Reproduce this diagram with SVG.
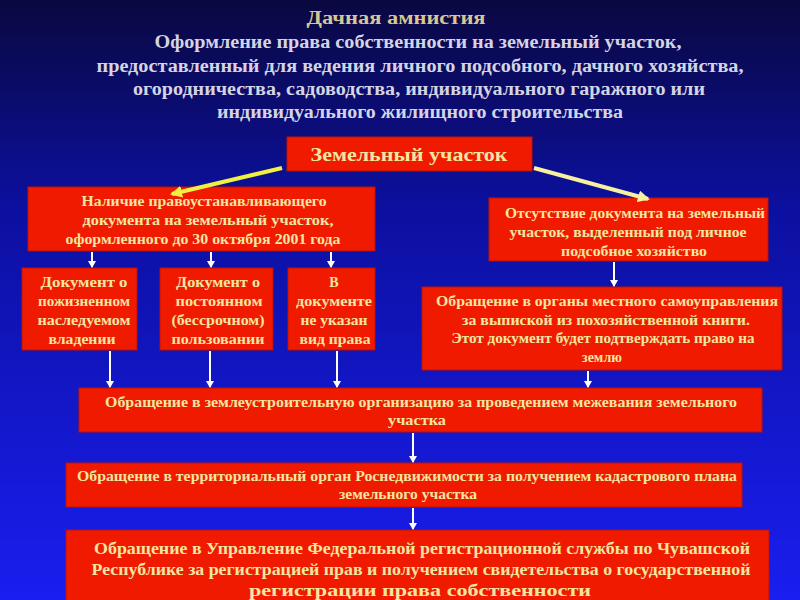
<svg xmlns="http://www.w3.org/2000/svg" width="800" height="600" viewBox="0 0 800 600">
<defs>
<linearGradient id="bg" x1="0" y1="0" x2="0" y2="1">
<stop offset="0" stop-color="#0a0840"/>
<stop offset="0.35" stop-color="#0c10a0"/>
<stop offset="1" stop-color="#1a1ef0"/>
</linearGradient>
<marker id="wh" markerWidth="8" markerHeight="8" refX="6" refY="4" orient="auto" markerUnits="userSpaceOnUse"><path d="M0,0 L7,4 L0,8 z" fill="#ffffff"/></marker>
<marker id="yh" markerWidth="14" markerHeight="12" refX="10" refY="6" orient="auto" markerUnits="userSpaceOnUse"><path d="M0,0 L12,6 L0,12 z" fill="#f0f040"/></marker>
<marker id="ph" markerWidth="14" markerHeight="12" refX="10" refY="6" orient="auto" markerUnits="userSpaceOnUse"><path d="M0,0 L12,6 L0,12 z" fill="#f8f0a0"/></marker>
</defs>
<style>
.box{fill:#f01a00;stroke:#c01000;stroke-width:1}
.t{font-family:"Liberation Serif","DejaVu Serif",serif;font-weight:bold;fill:#f4e6a0;text-anchor:middle}
.s{font-size:14px}
.h{font-family:"Liberation Serif","DejaVu Serif",serif;font-weight:bold;text-anchor:middle}
.c{stroke:#ffffff;stroke-width:2;fill:none;marker-end:url(#wh)}
</style>
<rect width="800" height="600" fill="url(#bg)"/>
<g id="title">
<text class="h" x="396" y="24" font-size="18" fill="#d8c890" textLength="179" lengthAdjust="spacingAndGlyphs">Дачная амнистия</text>
<text class="h" x="418" y="48" font-size="18" fill="#d4d4e4" textLength="527" lengthAdjust="spacingAndGlyphs">Оформление права собственности на земельный участок,</text>
<text class="h" x="420" y="72" font-size="18" fill="#d4d4e4" textLength="647" lengthAdjust="spacingAndGlyphs">предоставленный для ведения личного подсобного, дачного хозяйства,</text>
<text class="h" x="419" y="95" font-size="18" fill="#d4d4e4" textLength="572" lengthAdjust="spacingAndGlyphs">огородничества, садоводства, индивидуального гаражного или</text>
<text class="h" x="420" y="118" font-size="18" fill="#d4d4e4" textLength="406" lengthAdjust="spacingAndGlyphs">индивидуального жилищного строительства</text>
</g>
<g id="n-root"><rect class="box" x="287" y="137" width="245" height="34"/><text class="t" x="409" y="161" font-size="19" textLength="197" lengthAdjust="spacingAndGlyphs">Земельный участок</text></g>
<g id="n-has"><rect class="box" x="28" y="187" width="347" height="64"/>
<text class="t s" x="204" y="206" textLength="245" lengthAdjust="spacingAndGlyphs">Наличие правоустанавливающего</text>
<text class="t s" x="208" y="225" textLength="251" lengthAdjust="spacingAndGlyphs">документа на земельный участок,</text>
<text class="t s" x="203" y="244" textLength="275" lengthAdjust="spacingAndGlyphs">оформленного до 30 октября 2001 года</text></g>
<g id="n-none"><rect class="box" x="489" y="198" width="279" height="63"/>
<text class="t s" x="635" y="218" textLength="260" lengthAdjust="spacingAndGlyphs">Отсутствие документа на земельный</text>
<text class="t s" x="628" y="237" textLength="237" lengthAdjust="spacingAndGlyphs">участок, выделенный под личное</text>
<text class="t s" x="634" y="256" textLength="146" lengthAdjust="spacingAndGlyphs">подсобное хозяйство</text></g>
<g id="n-a"><rect class="box" x="22" y="268" width="115" height="82"/>
<text class="t s" x="84" y="287" textLength="87" lengthAdjust="spacingAndGlyphs">Документ о</text><text class="t s" x="84" y="306" textLength="92" lengthAdjust="spacingAndGlyphs">пожизненном</text><text class="t s" x="84" y="325" textLength="93" lengthAdjust="spacingAndGlyphs">наследуемом</text><text class="t s" x="82" y="344" textLength="67" lengthAdjust="spacingAndGlyphs">владении</text></g>
<g id="n-b"><rect class="box" x="160" y="268" width="113" height="82"/>
<text class="t s" x="218" y="287" textLength="84" lengthAdjust="spacingAndGlyphs">Документ о</text><text class="t s" x="219" y="306" textLength="87" lengthAdjust="spacingAndGlyphs">постоянном</text><text class="t s" x="218" y="325" textLength="93" lengthAdjust="spacingAndGlyphs">(бессрочном)</text><text class="t s" x="218" y="344" textLength="93" lengthAdjust="spacingAndGlyphs">пользовании</text></g>
<g id="n-c"><rect class="box" x="288" y="268" width="87" height="82"/>
<text class="t s" x="334" y="287">В</text><text class="t s" x="334" y="306" textLength="76" lengthAdjust="spacingAndGlyphs">документе</text><text class="t s" x="334" y="325" textLength="67" lengthAdjust="spacingAndGlyphs">не указан</text><text class="t s" x="335" y="344" textLength="71" lengthAdjust="spacingAndGlyphs">вид права</text></g>
<g id="n-local"><rect class="box" x="422" y="287" width="360" height="83"/>
<text class="t s" x="607" y="306" textLength="342" lengthAdjust="spacingAndGlyphs">Обращение в органы местного самоуправления</text>
<text class="t s" x="606" y="325" textLength="288" lengthAdjust="spacingAndGlyphs">за выпиской из похозяйственной книги.</text>
<text class="t s" x="603" y="343" textLength="303" lengthAdjust="spacingAndGlyphs">Этот документ будет подтверждать право на</text>
<text class="t s" x="602" y="362">землю</text></g>
<g id="n-survey"><rect class="box" x="79" y="388" width="683" height="44"/>
<text class="t s" x="421" y="407" textLength="632" lengthAdjust="spacingAndGlyphs">Обращение в землеустроительную организацию за проведением межевания земельного</text>
<text class="t s" x="417" y="425" textLength="58" lengthAdjust="spacingAndGlyphs">участка</text></g>
<g id="n-cadastre"><rect class="box" x="66" y="463" width="676" height="44"/>
<text class="t s" x="407" y="481" textLength="660" lengthAdjust="spacingAndGlyphs">Обращение в территориальный орган Роснедвижимости за получением кадастрового плана</text>
<text class="t s" x="408" y="499" textLength="138" lengthAdjust="spacingAndGlyphs">земельного участка</text></g>
<g id="n-reg"><rect class="box" x="66" y="530" width="703" height="75"/>
<text class="t" font-size="16" x="422" y="554" textLength="656" lengthAdjust="spacingAndGlyphs">Обращение в Управление Федеральной регистрационной службы по Чувашской</text>
<text class="t" font-size="16" x="421" y="575" textLength="659" lengthAdjust="spacingAndGlyphs">Республике за регистрацией прав и получением свидетельства о государственной</text>
<text class="t" font-size="16" x="420" y="596" textLength="342" lengthAdjust="spacingAndGlyphs">регистрации права собственности</text></g>
<g id="connectors">
<line x1="282" y1="168" x2="172" y2="194" stroke="#f0f040" stroke-width="4" marker-end="url(#yh)"/>
<line x1="534" y1="168" x2="648" y2="199" stroke="#f8f0a0" stroke-width="4" marker-end="url(#ph)"/>
<line class="c" x1="92" y1="252" x2="92" y2="267"/>
<line class="c" x1="211" y1="252" x2="211" y2="267"/>
<line class="c" x1="331" y1="252" x2="331" y2="267"/>
<line class="c" x1="110" y1="351" x2="110" y2="387"/>
<line class="c" x1="210" y1="351" x2="210" y2="387"/>
<line class="c" x1="337" y1="351" x2="337" y2="387"/>
<line class="c" x1="614" y1="262" x2="614" y2="286"/>
<line class="c" x1="588" y1="371" x2="588" y2="387"/>
<line class="c" x1="413" y1="433" x2="413" y2="462"/>
<line class="c" x1="413" y1="508" x2="413" y2="529"/>
</g>
</svg>
